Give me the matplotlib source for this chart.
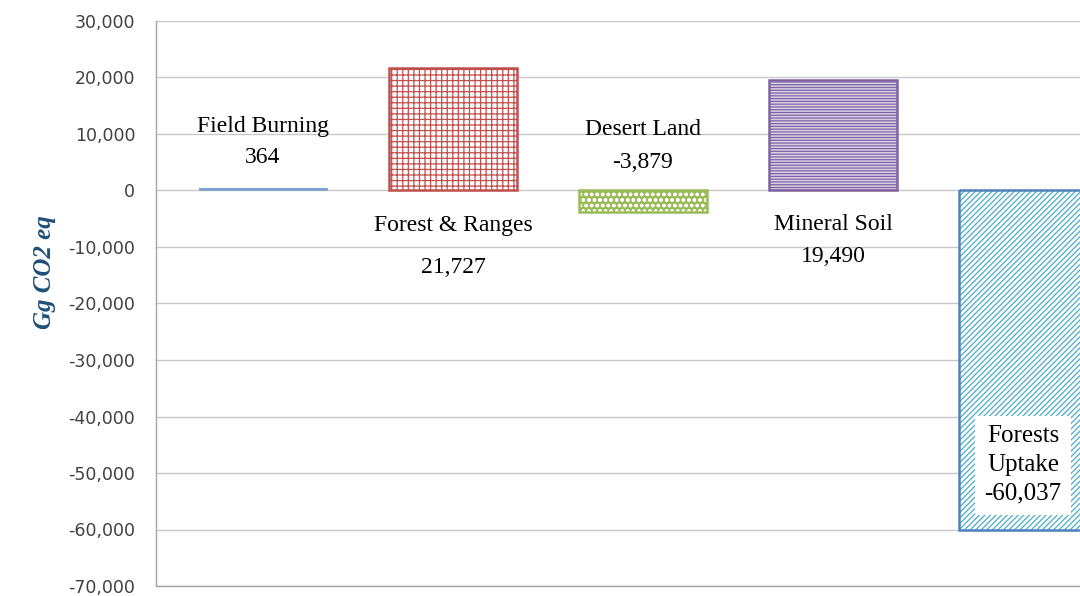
import numpy as np
import matplotlib
matplotlib.use("Agg")
import matplotlib.pyplot as plt

categories = ["Field Burning", "Forest & Ranges", "Desert Land", "Mineral Soil", "Forests\nUptake"]
values = [364, 21727, -3879, 19490, -60037]
value_labels = ["364", "21,727", "-3,879", "19,490", "-60,037"]

edge_colors = ["#7F9FCF", "#C0504D", "#9BBB59", "#8064A2", "#4F81BD"]
hatch_colors = ["#7F9FCF", "#C0504D", "#FFFFFF", "#8064A2", "#4BACC6"]
face_colors = ["#7F9FCF", "white", "#9BBB59", "#D9D0E6", "white"]
hatches = [None, "+++", "ooo", "------", "//////"]

plt.rcParams["hatch.linewidth"] = 0.9

fig = plt.figure(figsize=(10.8, 5.96), dpi=100)
ax = fig.add_axes([156 / 1080, 1 - 586 / 596, 1 - 156 / 1080, (586 - 21) / 596])

x = np.arange(len(categories))
w = 0.674
# fill + hatch first, then the border on top
for i in range(len(x)):
    ax.bar(x[i], values[i], width=w, color=face_colors[i], edgecolor=hatch_colors[i],
           hatch=hatches[i], linewidth=0, zorder=2)
    ax.bar(x[i], values[i], width=w, fill=False, edgecolor=edge_colors[i],
           linewidth=1.8 if i > 0 else 0.6, zorder=3)

ax.set_xlim(-0.563, 4.3)
ax.set_ylim(-70000, 30000)
ax.set_yticks(np.arange(-70000, 30001, 10000))
ax.yaxis.set_major_formatter(matplotlib.ticker.FuncFormatter(lambda v, p: f"{int(v):,}"))
ax.tick_params(axis="y", length=0, labelsize=12.5, labelcolor="#404040", pad=15)
ax.set_xticks([])
ax.grid(axis="y", color="#C8C8C8", linewidth=1)
ax.set_axisbelow(True)
for s in ["top", "right"]:
    ax.spines[s].set_visible(False)
for s in ["left", "bottom"]:
    ax.spines[s].set_color("#A6A6A6")
    ax.spines[s].set_linewidth(1)

fig.text(45 / 1080, 1 - 272 / 596, "Gg CO2 eq", rotation=90, fontsize=18, fontweight="bold",
         fontstyle="italic", color="#1F4E79", family="Liberation Serif", ha="center", va="center")

lab = dict(family="Liberation Serif", fontsize=17, ha="center", va="center", color="black")
# name / value label positions (y in data units)
name_y = [11239, -6283, 10708, -6106]
val_y = [5929, -13540, 5044, -11593]
for i in range(4):
    ax.text(x[i], name_y[i], categories[i], **lab)
    ax.text(x[i], val_y[i], value_labels[i], **lab)

ax.text(x[4], -48600, categories[4] + "\n" + value_labels[4], family="Liberation Serif",
        fontsize=18, ha="center", va="center", linespacing=1.4,
        bbox=dict(facecolor="white", edgecolor="none", pad=7), zorder=5)

fig.savefig("out.png", dpi=100)
